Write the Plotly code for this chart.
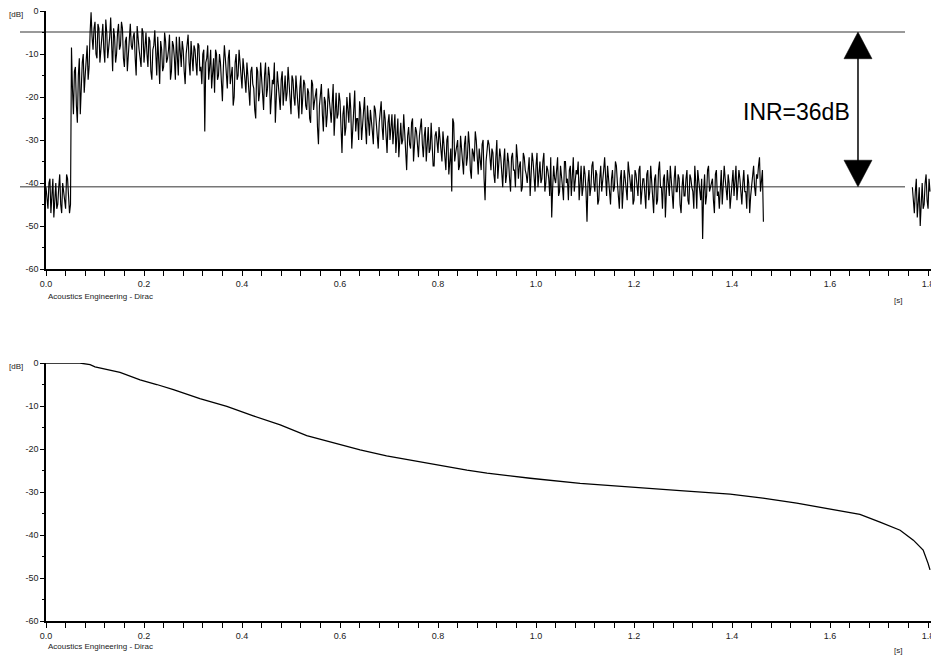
import plotly.graph_objects as go

# ---------------- data ----------------
# Impulse response level (dB). Samples every 2 ms: "even" samples at t0 + k*4 ms,
# "odd" samples half-way between them (both).
ir_half_dt = 0.002
ir_part1_start = 0.0
ir_part1_even_db = [
    -41, -46, -39, -44, -48, -40, -45, -38, -47, -42, -46, -39, -47,
    -8.5, -24, -13, -26, -11, -17, -10, -15, -8, -13,
    -0.3, -9, -2.5, -11, -4, -8, -3, -12, -5, -9, -1.5, -14, -6, -10, -3, -8, -4, -13, -6, -10, -3, -9, -5, -15, -7, -11, -4, -12,
    -5, -13, -7, -16, -8, -12, -6, -17, -9, -13, -7, -11, -5.5, -14, -8, -16, -10, -6, -13, -9, -17, -8, -12, -7, -14,
    -9, -15, -8, -13, -10, -28, -11, -16, -9, -14, -19, -10, -15, -12, -21, -8, -14, -11, -17, -13, -20, -10, -15, -12, -18,
    -13, -19, -15, -22, -13, -18, -25, -14, -19, -16, -23, -12, -18, -15, -21, -17, -26, -14, -20, -16, -22, -15, -19, -17, -24,
    -16, -22, -18, -25, -15, -20, -17, -23, -19, -26, -17, -21, -18, -31, -19, -24, -20, -27, -18, -23, -21, -29, -19, -24, -21,
    -33, -22, -27, -24, -19, -32, -23, -28, -25, -21, -30, -24, -27, -22, -29, -25, -31, -23, -28, -26, -21, -30, -25, -33, -24,
    -27, -31, -24, -29, -34, -26, -30, -28, -37, -27, -32, -25, -30, -28, -34, -26, -31, -29, -35, -27, -32, -30, -36, -28, -33,
    -30, -35, -31, -37, -29, -34, -42, -26, -33, -30, -36, -32, -38, -29, -34, -31, -39, -33, -28, -36, -32, -37, -30, -44, -33,
    -31, -37, -33, -40, -30, -36, -34, -41, -32, -38, -35, -42, -33, -37, -31, -39, -35, -41, -34, -38, -36, -43, -33, -39, -36,
    -41, -35, -39, -33, -40, -37, -43, -48, -36, -40, -34, -42, -38, -44, -35, -39, -37, -43, -34, -40, -38, -44, -36, -41, -38,
    -49, -37, -41, -35, -42, -38, -44, -36, -40, -34, -43, -39, -45, -37, -41, -36, -43, -39, -46, -37, -42, -35, -40, -38, -44,
    -38, -43, -36, -41, -39, -46, -37, -42, -40, -47, -38, -44, -35, -41, -39, -48, -37, -43, -40, -46, -36, -42, -39, -47, -38,
    -43, -37, -45, -39, -42, -36, -46, -40, -44, -53, -38, -43, -36, -41, -39, -47, -37, -42, -40, -45, -36, -41, -38, -46, -39,
    -43, -36, -41, -39, -45, -37, -42, -38, -47, -40, -36, -43, -39, -34, -40, -49,
]
ir_part1_odd_db = [
    -44, -40, -47, -39, -43, -46, -41, -45, -40, -44, -38, -43, -45,
    -18, -14, -22, -15, -24, -12, -19, -11, -16, -5,
    -6, -4, -10, -3, -12, -5, -9, -2, -11, -6, -8, -4, -12, -5, -9, -2.5, -11, -7, -14, -4, -8, -6, -11, -3.5, -9, -13, -5, -8,
    -10, -6, -14, -9, -4.5, -15, -10, -7, -14, -5, -12, -9, -16, -7, -11, -6, -15, -11, -7, -14, -10, -5.5, -15, -10, -8,
    -12, -7.5, -14, -17, -9, -12, -8, -13, -18, -11, -9, -16, -10, -17, -13, -11, -18, -9, -14, -22, -12, -16, -9, -15, -11,
    -16, -12, -20, -14, -17, -23, -13, -21, -12, -18, -15, -20, -13, -24, -16, -12, -19, -17, -23, -14, -18, -21, -13, -20, -15,
    -20, -15, -23, -18, -24, -16, -22, -18, -25, -16, -23, -19, -27, -22, -17, -28, -21, -24, -20, -26, -17, -22, -25, -19, -27,
    -24, -29, -20, -26, -23, -27, -18.5, -25, -30, -23, -26, -20, -31, -26, -23, -28, -22, -27, -32, -24, -27, -23, -29, -26, -30,
    -24, -28, -33, -25, -29, -31, -24, -33, -29, -31, -26, -35, -27, -32, -29, -25, -34, -27, -30, -33, -26, -36, -29, -31, -27,
    -33, -28, -36, -30, -38, -32, -25, -35, -31, -37, -29, -34, -31, -36, -28, -37, -32, -35, -30, -38, -34, -31, -39, -35, -30,
    -35, -32, -38, -34, -39, -32, -37, -35, -40, -33, -39, -34, -37, -41, -34, -36, -42, -33, -37, -40, -34, -38, -35, -42, -33,
    -37, -40, -35, -42, -36, -39, -34, -41, -39, -37, -43, -36, -41, -35, -40, -44, -36, -39, -42, -37, -35, -40, -43, -36, -42,
    -40, -43, -36, -40, -37, -45, -39, -42, -37, -41, -36, -44, -39, -42, -35, -40, -46, -37, -41, -39, -44, -38, -42, -45, -37,
    -41, -37, -45, -39, -43, -38, -44, -36, -42, -39, -45, -37, -41, -46, -38, -42, -40, -36, -44, -39, -42, -38, -45, -41, -43,
    -39, -44, -38, -41, -46, -40, -37, -43, -39, -42, -45, -37, -42, -40, -44, -38, -43, -46, -37, -41, -39, -44, -40, -42, -37,
    -40, -44, -37, -43, -40, -42, -46, -40, -43, -37, -41, -38, -36, -42, -37,
]
# second visible piece after the gap, starting at 1.768 s
ir_part2_start = 1.768
ir_part2_even_db = [-41, -47, -39, -44, -50, -40, -45, -38, -46, -42]
ir_part2_odd_db = [-45, -42, -48, -41, -43, -46, -40, -44, -39]

# Integrated (Schroeder) decay curve
decay_t = [0, 0.069, 0.09, 0.1, 0.151, 0.192, 0.226, 0.26, 0.314, 0.369, 0.423, 0.478,
           0.532, 0.586, 0.641, 0.695, 0.75, 0.804, 0.859, 0.9, 0.988, 1.09, 1.192,
           1.294, 1.396, 1.463, 1.532, 1.6, 1.661, 1.702, 1.743, 1.77, 1.79, 1.8, 1.804]
decay_db = [0, 0, -0.4, -0.9, -2.2, -3.9, -5.0, -6.2, -8.3, -10.1, -12.3, -14.4,
            -16.9, -18.5, -20.2, -21.6, -22.7, -23.9, -24.9, -25.6, -26.8, -28.0, -28.9,
            -29.7, -30.5, -31.4, -32.6, -33.9, -35.2, -37.0, -38.9, -41.2, -43.5, -46.6, -48.1]

# INR marker levels (peak level and noise floor) and arrow position
inr_levels_db = [-4.9, -40.9]
inr_arrow_t = 1.657
inr_label = "INR=36dB"

# tick labels
x_tick_vals = [0.0, 0.2, 0.4, 0.6, 0.8, 1.0, 1.2, 1.4, 1.6, 1.8]
x_tick_text = ["0.0", "0.2", "0.4", "0.6", "0.8", "1.0", "1.2", "1.4", "1.6", "1.8"]
y_tick_vals = [0, -10, -20, -30, -40, -50, -60]
y_tick_text = ["0", "-10", "-20", "-30", "-40", "-50", "-60"]

# ---------------- figure ----------------
W, H = 931, 656
FONT = "Arial, Liberation Sans, sans-serif"


def interleave(even, odd):
    out = []
    for i, v in enumerate(even):
        out.append(v)
        if i < len(odd):
            out.append(odd[i])
    return out


p1 = interleave(ir_part1_even_db, ir_part1_odd_db)
p2 = interleave(ir_part2_even_db, ir_part2_odd_db)
t1 = [ir_part1_start + k * ir_half_dt for k in range(len(p1))]
t2 = [ir_part2_start + k * ir_half_dt for k in range(len(p2))]
ir_t = t1 + [None] + t2
ir_db = p1 + [None] + p2

fig = go.Figure()
fig.add_trace(go.Scatter(x=ir_t, y=ir_db, mode="lines", xaxis="x", yaxis="y",
                         line=dict(color="black", width=1.15), connectgaps=False,
                         hoverinfo="skip", showlegend=False))
fig.add_trace(go.Scatter(x=decay_t, y=decay_db, mode="lines", xaxis="x2", yaxis="y2",
                         line=dict(color="black", width=1.3),
                         hoverinfo="skip", showlegend=False))

xcommon = dict(range=[0, 1.806], showline=True, linecolor="black", linewidth=1.5,
               ticks="outside", ticklen=5, tickwidth=1, tickcolor="black",
               tickmode="array", tickvals=x_tick_vals, ticktext=x_tick_text,
               ticklabeloverflow="allow",
               minor=dict(dtick=0.04, tick0=0, ticks="outside", ticklen=5, tickcolor="black"),
               showgrid=False, zeroline=False,
               tickfont=dict(family=FONT, size=9, color="#222"))
ycommon = dict(range=[-60, 0], showline=True, linecolor="black", linewidth=1.5,
               ticks="outside", ticklen=4, tickwidth=1, tickcolor="black",
               tickmode="array", tickvals=y_tick_vals, ticktext=y_tick_text,
               minor=dict(dtick=5, tick0=0, ticks="outside", ticklen=2, tickcolor="black"),
               showgrid=False, zeroline=False,
               tickfont=dict(family=FONT, size=9, color="#222"))

ML = 46
plot_w = W - ML
top_dom = [1 - 269 / H, 1 - 11 / H]
bot_dom = [1 - 621 / H, 1 - 363 / H]

fig.update_layout(
    width=W, height=H, template="none",
    paper_bgcolor="white", plot_bgcolor="white",
    margin=dict(l=ML, r=0, t=0, b=0),
    showlegend=False,
    xaxis=dict(domain=[0, 1], anchor="y", **xcommon),
    yaxis=dict(domain=top_dom, anchor="x", **ycommon),
    xaxis2=dict(domain=[0, 1], anchor="y2", **xcommon),
    yaxis2=dict(domain=bot_dom, anchor="x2", **ycommon),
)

# horizontal INR level lines (extend slightly left of the axis)
line_x0 = (20 - ML) / plot_w
line_x1 = (905 - ML) / plot_w
for lv in inr_levels_db:
    fig.add_shape(type="line", xref="paper", yref="y", x0=line_x0, x1=line_x1, y0=lv, y1=lv,
                  line=dict(color="#777777", width=1.5), layer="below")

# double arrow
top_lv, bot_lv = inr_levels_db
head_len = 6.2
head_half = 0.0286
a = inr_arrow_t
fig.add_shape(type="line", xref="x", yref="y", x0=a, x1=a,
              y0=top_lv - head_len + 0.5, y1=bot_lv + head_len - 0.5,
              line=dict(color="black", width=1.5))
fig.add_shape(type="path", xref="x", yref="y",
              path=f"M {a},{top_lv} L {a + head_half},{top_lv - head_len} L {a - head_half},{top_lv - head_len} Z",
              fillcolor="black", line=dict(color="black", width=0.5))
fig.add_shape(type="path", xref="x", yref="y",
              path=f"M {a},{bot_lv} L {a + head_half},{bot_lv + head_len} L {a - head_half},{bot_lv + head_len} Z",
              fillcolor="black", line=dict(color="black", width=0.5))

fig.add_annotation(x=a - 0.012, y=(top_lv + bot_lv) / 2 - 0.7, xref="x", yref="y",
                   text=inr_label, showarrow=False, xanchor="right", yanchor="middle",
                   font=dict(family=FONT, size=23, color="black"))


def px_x(p):
    return (p - ML) / plot_w


def px_y(p):
    return 1 - p / H


small = dict(family=FONT, size=8, color="#222")
for (ydb, ys, yfoot) in [(14, 300, 296), (366, 650, 646)]:
    fig.add_annotation(xref="paper", yref="paper", x=px_x(16), y=px_y(ydb), text="[dB]",
                       showarrow=False, font=small, xanchor="center", yanchor="middle")
    fig.add_annotation(xref="paper", yref="paper", x=px_x(898), y=px_y(ys), text="[s]",
                       showarrow=False, font=small, xanchor="center", yanchor="middle")
    fig.add_annotation(xref="paper", yref="paper", x=px_x(46), y=px_y(yfoot),
                       text="Acoustics Engineering - Dirac",
                       showarrow=False, font=small, xanchor="left", yanchor="middle")

fig.write_html("out.html", config={"displayModeBar": False},
               post_script="document.body.style.margin='0px';document.body.style.overflow='hidden';")
